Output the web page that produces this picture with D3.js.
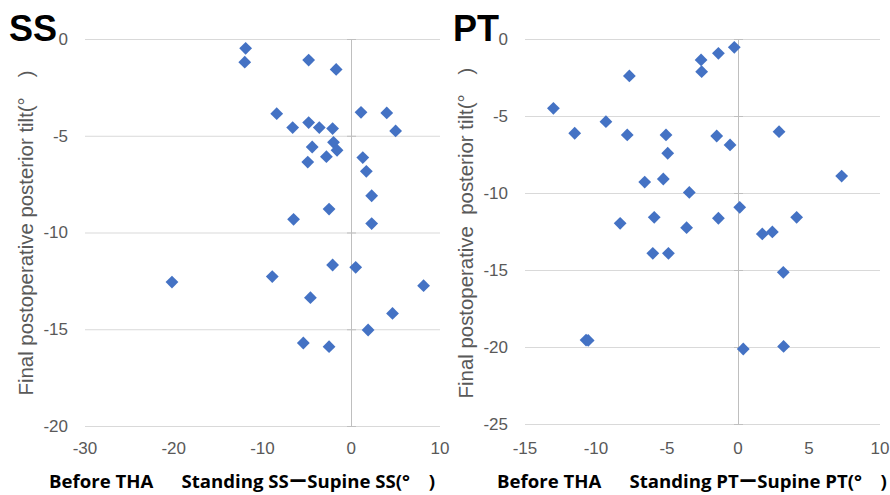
<!DOCTYPE html>
<html>
<head>
<meta charset="utf-8">
<script src="https://cdn.jsdelivr.net/npm/d3@7"></script>
<style>
  body { margin: 0; background: #fff; }
  svg { display: block; }
</style>
</head>
<body>
<div id="chart-area"></div>
<script>
// SS panel: standing SS - supine SS (before THA) vs final postoperative posterior tilt
const ssX = [-11.9, -12.0, -4.8, -1.7, -8.4, -6.6, -4.8, -3.6, -2.1, -2.0, -4.4,
  -1.6, -2.8, -4.9, 1.1, 4.0, 5.0, 1.3, 1.7, 2.3, -2.5, -6.5, 2.3,
  -20.2, -8.9, -2.1, 0.5, 8.15, -4.6, 4.65, 1.9, -5.4, -2.5]
const ssY = [-0.48, -1.2, -1.09, -1.57, -3.86, -4.58, -4.32, -4.58, -4.63, -5.34, -5.58,
  -5.75, -6.08, -6.36, -3.79, -3.82, -4.75, -6.13, -6.84, -8.1, -8.79, -9.32, -9.54,
  -12.56, -12.28, -11.68, -11.8, -12.75, -13.37, -14.18, -15.04, -15.71, -15.9]

// PT panel: standing PT - supine PT (before THA) vs final postoperative posterior tilt
const ptX = [-13.0, -11.5, -9.3, -7.65, -7.8, -5.07, -4.95, -6.57, -5.26, -3.43,
  -2.6, -2.56, -1.38, -0.26, -1.5, -0.56, 2.89, 7.3, 0.12, 4.13, -1.38, -5.9,
  -8.3, -3.62, 1.71, 2.42, -6.0, -4.9, 3.19, -10.7, -10.55, 0.37, 3.21]
const ptY = [-4.5, -6.12, -5.37, -2.4, -6.23, -6.23, -7.42, -9.29, -9.09, -9.96,
  -1.36, -2.12, -0.93, -0.54, -6.3, -6.88, -6.02, -8.9, -10.93, -11.58, -11.64, -11.58,
  -11.97, -12.25, -12.66, -12.53, -13.92, -13.92, -15.15, -19.55, -19.57, -20.13, -19.96]

// tick labels
const ssXTicks = [-30, -20, -10, 0, 10]
const ssYTicks = [0, -5, -10, -15, -20]
const ptXTicks = [-15, -10, -5, 0, 5, 10]
const ptYTicks = [0, -5, -10, -15, -20, -25]

const titles = ["SS", "PT"]
const yTitle = ["Final postoperative posterior tilt(°\u3000)", "Final postoperative  posterior tilt(°\u3000)"]
const xTitle = ["Before THA\u3000  Standing SSーSupine SS(°\u3000)", "Before THA\u3000  Standing PTーSupine PT(°\u3000)"]

const WIDTH = 890
const HEIGHT = 495
const GRAY = "#595959"
const BLUE = "#4472C4"

const svg = d3.select("#chart-area").append("svg")
  .attr("width", WIDTH)
  .attr("height", HEIGHT)

const panels = [
  { xs: ssX, ys: ssY, xTicks: ssXTicks, yTicks: ssYTicks,
    xRange: [85, 440], yRange: [426, 39], titleX: 9, yTitleX: 26, xTitleX: 49 },
  { xs: ptX, ys: ptY, xTicks: ptXTicks, yTicks: ptYTicks,
    xRange: [525, 880], yRange: [424, 39], titleX: 453, yTitleX: 466, xTitleX: 497 }
]

// diamond marker (square rotated 45deg)
const diamond = d3.symbol().type(d3.symbolSquare).size(82)

panels.forEach((p, i) => {
  const x = d3.scaleLinear()
    .domain(d3.extent(p.xTicks))
    .range(p.xRange)
  const y = d3.scaleLinear()
    .domain(d3.extent(p.yTicks))
    .range([p.yRange[0], p.yRange[1]])

  const g = svg.append("g")

  // horizontal gridlines
  g.selectAll(".grid")
    .data(p.yTicks)
    .enter().append("line")
    .attr("class", "grid")
    .attr("x1", p.xRange[0])
    .attr("x2", p.xRange[1])
    .attr("y1", d => y(d) + 0.5)
    .attr("y2", d => y(d) + 0.5)
    .attr("stroke", "#d9d9d9")
    .attr("stroke-width", 1)

  // vertical axis line at x = 0
  g.append("line")
    .attr("x1", Math.round(x(0)) + 0.5)
    .attr("x2", Math.round(x(0)) + 0.5)
    .attr("y1", y(p.yTicks[0]))
    .attr("y2", y(d3.min(p.yTicks)))
    .attr("stroke", "#bfbfbf")
    .attr("stroke-width", 1)

  g.selectAll(".zt")
    .data(p.yTicks)
    .enter().append("line")
    .attr("class", "zt")
    .attr("x1", Math.round(x(0)) - 4)
    .attr("x2", Math.round(x(0)) + 5)
    .attr("y1", d => y(d) + 0.5)
    .attr("y2", d => y(d) + 0.5)
    .attr("stroke", "#bfbfbf")

  // y tick labels
  g.selectAll(".ylab")
    .data(p.yTicks)
    .enter().append("text")
    .attr("class", "ylab")
    .attr("x", p.xRange[0] - 17)
    .attr("y", d => y(d))
    .attr("dy", "0.35em")
    .attr("text-anchor", "end")
    .attr("font-family", "Liberation Sans, Arial, sans-serif")
    .attr("font-size", "17px")
    .attr("fill", GRAY)
    .text(d => d)

  // x tick labels
  g.selectAll(".xlab")
    .data(p.xTicks)
    .enter().append("text")
    .attr("class", "xlab")
    .attr("x", d => x(d))
    .attr("y", 448)
    .attr("dy", "0.35em")
    .attr("text-anchor", "middle")
    .attr("font-family", "Liberation Sans, Arial, sans-serif")
    .attr("font-size", "17px")
    .attr("fill", GRAY)
    .text(d => d)

  // points
  g.selectAll(".pt")
    .data(d3.zip(p.xs, p.ys))
    .enter().append("path")
    .attr("class", "pt")
    .attr("d", diamond)
    .attr("transform", d => `translate(${x(d[0])},${y(d[1])}) rotate(45)`)
    .attr("fill", BLUE)

  // panel title
  svg.append("text")
    .attr("x", p.titleX)
    .attr("y", 41)
    .attr("font-family", "Liberation Sans, Arial, sans-serif")
    .attr("font-weight", "bold")
    .attr("font-size", "36px")
    .attr("fill", "#000")
    .text(titles[i])

  // y axis title
  svg.append("text")
    .attr("transform", `translate(${p.yTitleX}, 233) rotate(-90)`)
    .attr("dy", "0.35em")
    .attr("text-anchor", "middle")
    .attr("font-family", "Liberation Sans, Arial, sans-serif")
    .attr("font-size", "20.4px")
    .attr("fill", GRAY)
    .style("white-space", "pre")
    .text(yTitle[i])

  // x axis title
  svg.append("text")
    .attr("x", p.xTitleX)
    .attr("y", 488)
    .attr("font-family", "Open Sans, Noto Sans CJK JP, sans-serif")
    .attr("font-weight", "bold")
    .attr("font-size", "18.6px")
    .attr("fill", "#000")
    .style("white-space", "pre")
    .text(xTitle[i])
})
</script>
</body>
</html>
